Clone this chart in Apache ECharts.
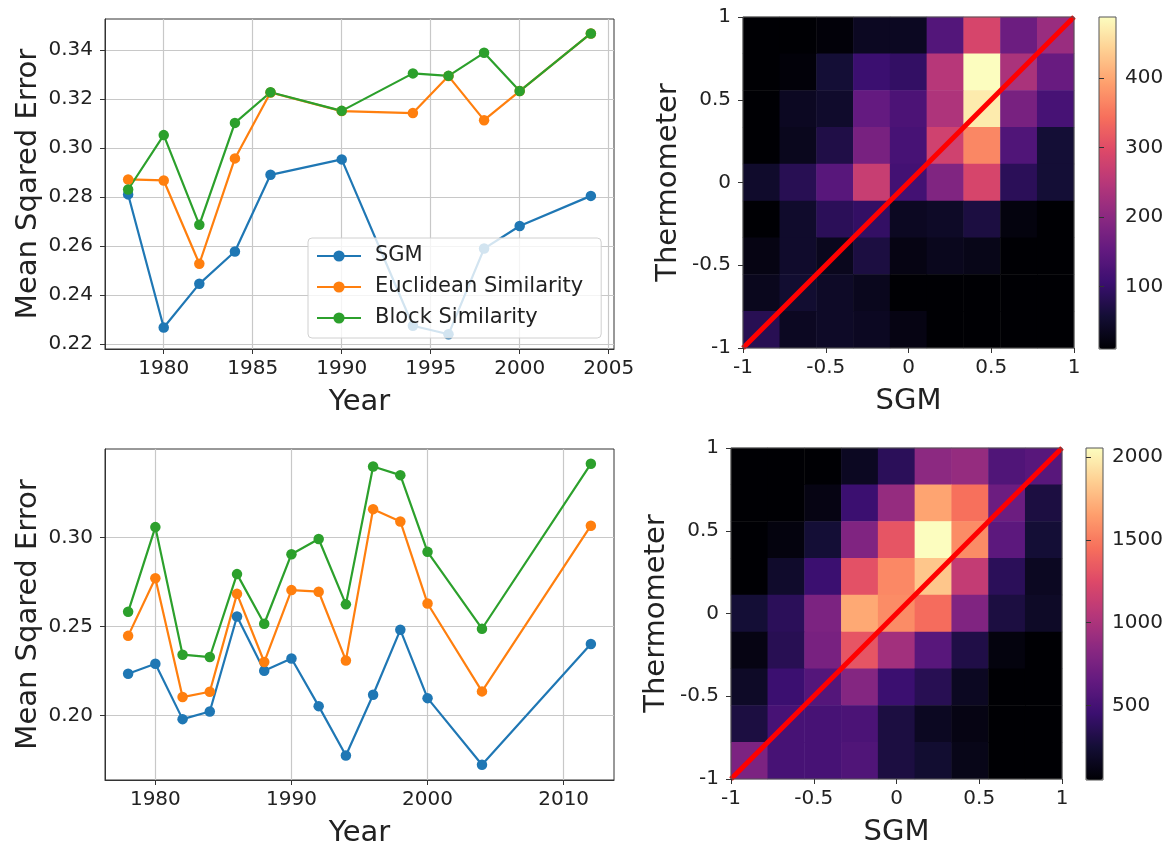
<!DOCTYPE html>
<html>
<head>
<meta charset="utf-8">
<script src="https://cdn.jsdelivr.net/npm/echarts@6/dist/echarts.min.js"></script>
<style>
  html, body { margin: 0; padding: 0; background: #fff; }
  #main { width: 1175px; height: 843px; }
</style>
</head>
<body>
<div id="main"></div>
<script>
// line charts, top
let yearsTop = [1978, 1980, 1982, 1984, 1986, 1990, 1994, 1996, 1998, 2000, 2004];
let sgmTop = [0.2811, 0.2268, 0.2446, 0.2578, 0.2891, 0.2954, 0.2275, 0.2240, 0.2590, 0.2682, 0.2805];
let eucTop = [0.2872, 0.2868, 0.2528, 0.2958, 0.3227, 0.3151, 0.3143, 0.3294, 0.3114, 0.3233, 0.3468];
let blockTop = [0.2831, 0.3053, 0.2687, 0.3103, 0.3228, 0.3152, 0.3305, 0.3295, 0.3389, 0.3233, 0.3468];
let yearTicksTop = [1980, 1985, 1990, 1995, 2000, 2005];
let mseTicksTop = [0.22, 0.24, 0.26, 0.28, 0.30, 0.32, 0.34];

// line charts, bottom
let yearsBottom = [1978, 1980, 1982, 1984, 1986, 1988, 1990, 1992, 1994, 1996, 1998, 2000, 2004, 2012];
let sgmBottom = [0.2234, 0.2290, 0.1979, 0.2022, 0.2556, 0.2251, 0.2320, 0.2052, 0.1775, 0.2116, 0.2481, 0.2097, 0.1723, 0.2401];
let eucBottom = [0.2447, 0.2771, 0.2103, 0.2133, 0.2683, 0.2300, 0.2704, 0.2695, 0.2309, 0.3159, 0.3090, 0.2629, 0.2135, 0.3066];
let blockBottom = [0.2582, 0.3058, 0.2341, 0.2328, 0.2794, 0.2515, 0.2906, 0.2991, 0.2624, 0.3399, 0.3350, 0.2919, 0.2487, 0.3414];
let yearTicksBottom = [1980, 1990, 2000, 2010];
let mseTicksBottom = [0.20, 0.25, 0.30];

// 2d histograms, rows listed from top (Thermometer = 1) to bottom (-1)
let bins = ['0', '1', '2', '3', '4', '5', '6', '7', '8'];
let heatTop = [
    [10, 10, 15, 39, 39, 134, 287, 163, 216],
    [10, 15, 58, 106, 96, 249, 488, 235, 158],
    [10, 39, 48, 153, 125, 239, 469, 177, 120],
    [10, 34, 72, 177, 120, 278, 368, 130, 58],
    [48, 82, 139, 268, 115, 187, 287, 86, 58],
    [10, 48, 86, 96, 39, 43, 67, 20, 10],
    [24, 48, 34, 67, 24, 34, 29, 10, 10],
    [34, 53, 43, 34, 10, 10, 10, 10, 10],
    [82, 39, 43, 39, 24, 10, 10, 10, 10]
];
let heatBottom = [
    [50, 50, 50, 170, 371, 852, 892, 551, 591],
    [50, 50, 110, 451, 892, 1673, 1453, 691, 290],
    [50, 90, 250, 791, 1313, 2054, 1573, 611, 250],
    [50, 210, 451, 1292, 1553, 1814, 1112, 371, 170],
    [250, 371, 771, 1693, 1573, 1433, 791, 290, 190],
    [110, 351, 751, 1313, 952, 591, 310, 90, 50],
    [190, 451, 571, 812, 451, 351, 170, 50, 50],
    [290, 511, 511, 531, 290, 170, 110, 50, 50],
    [771, 511, 511, 551, 290, 230, 130, 50, 50]
];
let diagLine = [[-1, -1], [1, 1]];
let cbarTicksTop = [100, 200, 300, 400];
let cbarTicksBottom = [500, 1000, 1500, 2000];

let magma = ['#000004', '#140e36', '#3b0f70', '#641a80', '#8c2981', '#b73779',
    '#de4968', '#f7705c', '#fe9f6d', '#fecf92', '#fcfdbf'];

let FONT = 'DejaVu Sans';
let TXT = '#222';
let tickFont = { fontFamily: FONT, fontSize: 20, color: TXT };
let nameFont = { fontFamily: FONT, fontSize: 29, color: TXT };

function pairs(xs, ys) {
    return xs.map(function (x, i) { return [x, ys[i]]; });
}

function toCells(rows) {
    let cells = [];
    rows.forEach(function (row, r) {
        row.forEach(function (v, c) {
            cells.push([c, rows.length - 1 - r, v]);
        });
    });
    return cells;
}

function plain(v) {
    return String(v);
}

function lineSeries(name, color, idx, data) {
    return {
        name: name, type: 'line', xAxisIndex: idx, yAxisIndex: idx,
        data: data, symbol: 'circle', symbolSize: 10.5,
        itemStyle: { color: color }, lineStyle: { color: color, width: 2.2 },
        emphasis: { disabled: true }
    };
}

function yearAxis(idx, min, max, ticks) {
    return {
        gridIndex: idx, type: 'value', min: min, max: max,
        name: 'Year', nameLocation: 'middle', nameGap: 39, nameTextStyle: nameFont,
        axisLine: { show: true, onZero: false, lineStyle: { color: '#333' } },
        axisTick: { show: true, length: 5, customValues: ticks, lineStyle: { color: '#333' } },
        axisLabel: Object.assign({ customValues: ticks, margin: 10, formatter: plain }, tickFont),
        splitLine: { show: true, lineStyle: { color: '#c8c8c8', width: 1.2 } }
    };
}

function mseAxis(idx, min, max, ticks) {
    return {
        gridIndex: idx, type: 'value', min: min, max: max,
        name: 'Mean Sqared Error', nameLocation: 'middle', nameGap: 62, nameTextStyle: nameFont,
        axisLine: { show: true, onZero: false, lineStyle: { color: '#333' } },
        axisTick: { show: true, length: 5, customValues: ticks, lineStyle: { color: '#333' } },
        axisLabel: Object.assign({
            customValues: ticks, margin: 12,
            formatter: function (v) { return v.toFixed(2); }
        }, tickFont),
        splitLine: { show: true, lineStyle: { color: '#c8c8c8', width: 1.2 } }
    };
}

function catAxis(idx) {
    return {
        gridIndex: idx, type: 'category', data: bins, show: false
    };
}

function sgmAxis(idx, name, isY) {
    return {
        gridIndex: idx, type: 'value', min: -1, max: 1, interval: 0.5,
        name: name, nameLocation: 'middle', nameGap: isY ? 60 : 39, nameTextStyle: nameFont,
        axisLine: { show: false, onZero: false },
        axisTick: { show: true, length: 5, lineStyle: { color: '#333' } },
        axisLabel: Object.assign({ margin: isY ? 12 : 10, formatter: plain }, tickFont),
        splitLine: { show: false }, z: 10
    };
}

function cbarAxis(idx, min, max, ticks) {
    return {
        gridIndex: idx, type: 'value', min: min, max: max, position: 'right',
        axisLine: { show: false },
        axisTick: { show: true, length: 5, customValues: ticks, lineStyle: { color: '#333' } },
        axisLabel: Object.assign({ customValues: ticks, margin: 9, formatter: plain }, tickFont),
        splitLine: { show: false }, z: 10
    };
}

let frame = { show: true, borderColor: '#333', borderWidth: 1, backgroundColor: 'transparent', outerBoundsMode: 'none', containLabel: false };
let heatFrame = { show: true, borderColor: '#555', borderWidth: 1, backgroundColor: 'transparent', z: 10, outerBoundsMode: 'none', containLabel: false };
let bare = { outerBoundsMode: 'none', containLabel: false };

let chart = echarts.init(document.getElementById('main'));
let option = {
    animation: false,
    textStyle: { fontFamily: FONT },
    grid: [
        Object.assign({ left: 105, top: 19, width: 509, height: 330 }, frame),
        Object.assign({ left: 105, top: 449, width: 509, height: 331 }, frame),
        Object.assign({ left: 743, top: 17, width: 331, height: 331 }, bare),
        Object.assign({ left: 743, top: 17, width: 331, height: 331 }, heatFrame),
        Object.assign({ left: 731, top: 448, width: 331, height: 331 }, bare),
        Object.assign({ left: 731, top: 448, width: 331, height: 331 }, heatFrame),
        Object.assign({ left: 1099, top: 17, width: 17, height: 332 }, heatFrame),
        Object.assign({ left: 1086, top: 448, width: 17, height: 332 }, heatFrame)
    ],
    xAxis: [
        yearAxis(0, 1976.7, 2005.3, yearTicksTop),
        yearAxis(1, 1976.3, 2013.7, yearTicksBottom),
        catAxis(2),
        sgmAxis(3, 'SGM', false),
        catAxis(4),
        sgmAxis(5, 'SGM', false),
        { gridIndex: 6, type: 'value', min: 0, max: 1, show: false },
        { gridIndex: 7, type: 'value', min: 0, max: 1, show: false }
    ],
    yAxis: [
        mseAxis(0, 0.218, 0.3527, mseTicksTop),
        mseAxis(1, 0.1637, 0.3497, mseTicksBottom),
        catAxis(2),
        sgmAxis(3, 'Thermometer', true),
        catAxis(4),
        sgmAxis(5, 'Thermometer', true),
        cbarAxis(6, 10, 488, cbarTicksTop),
        cbarAxis(7, 50, 2054, cbarTicksBottom)
    ],
    legend: {
        data: ['SGM', 'Euclidean Similarity', 'Block Similarity'],
        orient: 'vertical', left: 308, top: 238,
        padding: [6, 18, 8, 8], itemWidth: 44, itemHeight: 14, itemGap: 7,
        backgroundColor: 'rgba(255,255,255,0.8)', borderColor: '#d0d0d0', borderWidth: 1, borderRadius: 4,
        textStyle: { fontFamily: FONT, fontSize: 21, lineHeight: 24, color: TXT, padding: [0, 0, 0, 9] },
        selectedMode: false
    },
    visualMap: [
        {
            type: 'continuous', seriesIndex: 6, dimension: 2, min: 10, max: 488,
            left: 1099, top: 17, itemWidth: 17, itemHeight: 332, padding: 0,
            calculable: false, hoverLink: false, text: null,
            inRange: { color: magma }
        },
        {
            type: 'continuous', seriesIndex: 8, dimension: 2, min: 50, max: 2054,
            left: 1086, top: 448, itemWidth: 17, itemHeight: 332, padding: 0,
            calculable: false, hoverLink: false, text: null,
            inRange: { color: magma }
        }
    ],
    series: [
        lineSeries('SGM', '#1f77b4', 0, pairs(yearsTop, sgmTop)),
        lineSeries('Euclidean Similarity', '#ff7f0e', 0, pairs(yearsTop, eucTop)),
        lineSeries('Block Similarity', '#2ca02c', 0, pairs(yearsTop, blockTop)),
        lineSeries('SGM', '#1f77b4', 1, pairs(yearsBottom, sgmBottom)),
        lineSeries('Euclidean Similarity', '#ff7f0e', 1, pairs(yearsBottom, eucBottom)),
        lineSeries('Block Similarity', '#2ca02c', 1, pairs(yearsBottom, blockBottom)),
        {
            type: 'heatmap', xAxisIndex: 2, yAxisIndex: 2, data: toCells(heatTop),
            emphasis: { disabled: true }
        },
        {
            type: 'line', xAxisIndex: 3, yAxisIndex: 3, data: diagLine, symbol: 'none', z: 5,
            lineStyle: { color: '#ff0000', width: 5 }, emphasis: { disabled: true }
        },
        {
            type: 'heatmap', xAxisIndex: 4, yAxisIndex: 4, data: toCells(heatBottom),
            emphasis: { disabled: true }
        },
        {
            type: 'line', xAxisIndex: 5, yAxisIndex: 5, data: diagLine, symbol: 'none', z: 5,
            lineStyle: { color: '#ff0000', width: 5 }, emphasis: { disabled: true }
        }
    ]
};
option && chart.setOption(option);
</script>
</body>
</html>
